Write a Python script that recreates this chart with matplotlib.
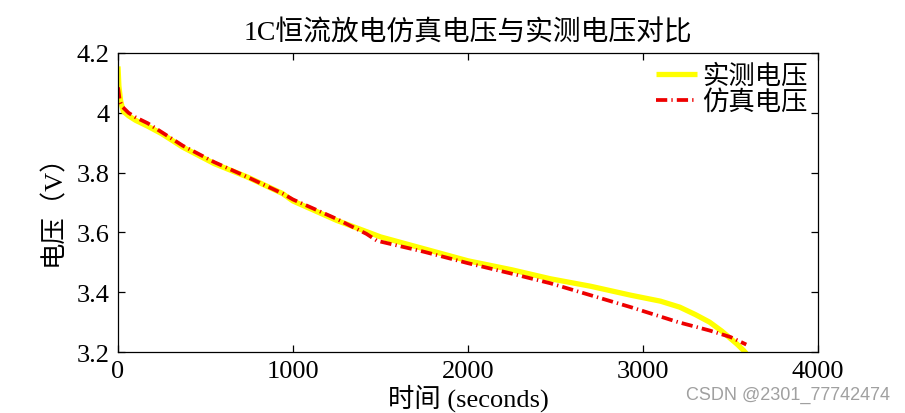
import matplotlib
matplotlib.use("Agg")
import matplotlib.pyplot as plt

plt.rcParams['font.family'] = ['Liberation Serif', 'Noto Sans CJK SC', 'DejaVu Sans']

# 实测电压 (measured)
t_meas = [0, 5, 15, 30, 60, 100, 170, 250, 370, 550, 740, 940, 1000, 1250, 1500,
          1750, 2000, 2250, 2470, 2700, 2930, 3100, 3210, 3300, 3380, 3450, 3500,
          3540, 3575, 3590]
v_meas = [4.155, 4.09, 4.04, 4.005, 3.99, 3.975, 3.955, 3.93, 3.885, 3.83, 3.785,
          3.73, 3.705, 3.64, 3.585, 3.545, 3.505, 3.475, 3.445, 3.42, 3.39, 3.37,
          3.35, 3.325, 3.30, 3.27, 3.245, 3.225, 3.205, 3.195]

# 仿真电压 (simulated)
t_sim = [0, 10, 25, 60, 100, 170, 250, 370, 550, 740, 940, 1000, 1250, 1420, 1480,
         1750, 2000, 2250, 2470, 2700, 2930, 3200, 3380, 3500, 3590]
v_sim = [4.085, 4.04, 4.02, 4.0, 3.985, 3.965, 3.935, 3.89, 3.835, 3.785, 3.73,
         3.71, 3.645, 3.595, 3.572, 3.535, 3.497, 3.462, 3.43, 3.39, 3.35, 3.30,
         3.272, 3.25, 3.225]

xticks = [0, 1000, 2000, 3000, 4000]
yticks = [3.2, 3.4, 3.6, 3.8, 4.0, 4.2]
ylabels = ['3.2', '3.4', '3.6', '3.8', '4', '4.2']

fig = plt.figure(figsize=(9.05, 4.14), dpi=100)
ax = fig.add_axes([0.1304, 0.1473, 0.7735, 0.7223])

ax.plot(t_meas, v_meas, color='#ffff00', lw=3.8, label='实测电压',
        solid_capstyle='butt')
ax.plot(t_sim, v_sim, color='#ee0000', lw=2.7, label='仿真电压',
        linestyle=(0, (3.0, 1.1, 0.35, 1.1)))

ax.set_xlim(0, 4000)
ax.set_ylim(3.2, 4.2)
ax.set_xticks(xticks)
ax.set_yticks(yticks)
ax.set_yticklabels(ylabels)
ax.tick_params(direction='in', top=True, right=True, length=5, width=0.9,
               labelsize=19, pad=6)
for s in ax.spines.values():
    s.set_linewidth(0.9)

ax.set_title('1C恒流放电仿真电压与实测电压对比', fontsize=20, pad=10)
ax.set_xlabel('时间 (seconds)', fontsize=19, labelpad=1)
ax.set_ylabel('电压（V）', fontsize=19, labelpad=8)

ax.legend(loc='upper right', frameon=False, fontsize=19, handlelength=1.55,
          handletextpad=0.2, labelspacing=0.05, borderaxespad=0.1,
          borderpad=0.3)

fig.text(0.983, 0.045, 'CSDN @2301_77742474', color='#a0a0a0', fontsize=13,
         family='Liberation Sans', ha='right', va='center')

fig.savefig('out.png', dpi=100)
